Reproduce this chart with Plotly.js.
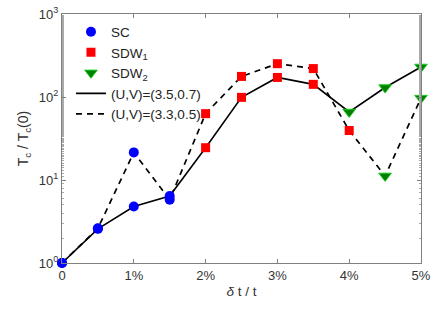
<!DOCTYPE html>
<html><head><meta charset="utf-8">
<script src="https://cdn.plot.ly/plotly-3.0.1.min.js"></script>
<style>body{margin:0;background:#fff}#c{width:436px;height:312px}</style>
</head><body><div id="c"></div>
<script>
const xVals = [0, 0.5, 1, 1.5, 2, 2.5, 3, 3.5, 4, 4.5, 5];
const solidVals = [1, 2.58, 4.8, 6.4, 24.5, 99, 172, 142, 66, 130, 230];
const dashedVals = [1, 2.62, 21.5, 5.8, 63, 177, 252, 220, 39.5, 11.2, 97];
// phase per point index
const solidPhase = ['SC','SC','SC','SC','SDW1','SDW1','SDW1','SDW1','SDW2','SDW2','SDW2'];
const dashedPhase = ['SC','SC','SC','SC','SDW1','SDW1','SDW1','SDW1','SDW1','SDW2','SDW2'];
const xTickVals = [0, 1, 2, 3, 4, 5];
const xTickText = ['0', '1%', '2%', '3%', '4%', '5%'];
const yTickVals = [1, 10, 100, 1000];
const yTickText = ['10<sup>0</sup>', '10<sup>1</sup>', '10<sup>2</sup>', '10<sup>3</sup>'];
const lineNames = ['(U,V)=(3.5,0.7)', '(U,V)=(3.3,0.5)'];

function pick(phase) {
  const xs = [], ys = [];
  xVals.forEach((x, i) => {
    if (solidPhase[i] === phase) { xs.push(x); ys.push(solidVals[i]); }
    if (dashedPhase[i] === phase) { xs.push(x); ys.push(dashedVals[i]); }
  });
  return {xs, ys};
}
const sc = pick('SC'), s1 = pick('SDW1'), s2 = pick('SDW2');

const traces = [
  {x: xVals, y: solidVals, mode: 'lines', name: lineNames[0], legendrank: 4, cliponaxis: false,
   line: {color: '#000', width: 1.6}},
  {x: xVals, y: dashedVals, mode: 'lines', name: lineNames[1], legendrank: 5, cliponaxis: false,
   line: {color: '#000', width: 1.7, dash: '6px,5px'}},
  {x: sc.xs, y: sc.ys, mode: 'markers', name: 'SC', legendrank: 1, cliponaxis: false,
   marker: {symbol: 'circle', size: 10, color: '#0000ff'}},
  {x: s1.xs, y: s1.ys, mode: 'markers', name: 'SDW<sub>1</sub>', legendrank: 2, cliponaxis: false,
   marker: {symbol: 'square', size: 9, color: '#ff0000'}},
  {x: s2.xs, y: s2.ys, mode: 'markers', name: 'SDW<sub>2</sub>', legendrank: 3, cliponaxis: false,
   marker: {symbol: 'triangle-down', size: 11, color: '#008000', line: {color: '#22cc22', width: 1}}}
];

const layout = {
  width: 436, height: 312,
  margin: {l: 62, r: 15, t: 14, b: 49},
  paper_bgcolor: '#fff', plot_bgcolor: '#fff',
  font: {family: 'Liberation Sans, Arial, sans-serif', size: 13, color: '#333'},
  showlegend: true,
  legend: {x: 0.025, y: 0.99, xanchor: 'left', yanchor: 'top', bgcolor: 'rgba(0,0,0,0)',
           font: {size: 13.5, color: '#222'}, tracegroupgap: 0, itemwidth: 30},
  xaxis: {range: [0, 5], tickvals: xTickVals, ticktext: xTickText, ticks: 'inside', ticklen: 4,
          showline: true, linecolor: '#808080', linewidth: 1, mirror: 'ticks', showgrid: false,
          zeroline: false, tickcolor: '#808080', tickfont: {size: 13, color: '#333'},
          title: {text: '<i>δ</i> t / t', font: {size: 13.5, color: '#333'}, standoff: 4}},
  yaxis: {type: 'log', range: [0, 3], tickvals: yTickVals, ticktext: yTickText, ticks: 'inside', ticklen: 4,
          showline: true, linecolor: '#808080', linewidth: 1, mirror: 'ticks', showgrid: false,
          zeroline: false, tickcolor: '#808080', tickfont: {size: 13, color: '#333'},
          minor: {ticks: 'inside', ticklen: 2, tickcolor: '#aaa', showgrid: false},
          title: {text: 'T<sub>c</sub> / T<sub>c</sub>(0)', font: {size: 14, color: '#333'}, standoff: 6}}
};
Plotly.newPlot('c', traces, layout, {displayModeBar: false, staticPlot: true});
</script></body></html>
